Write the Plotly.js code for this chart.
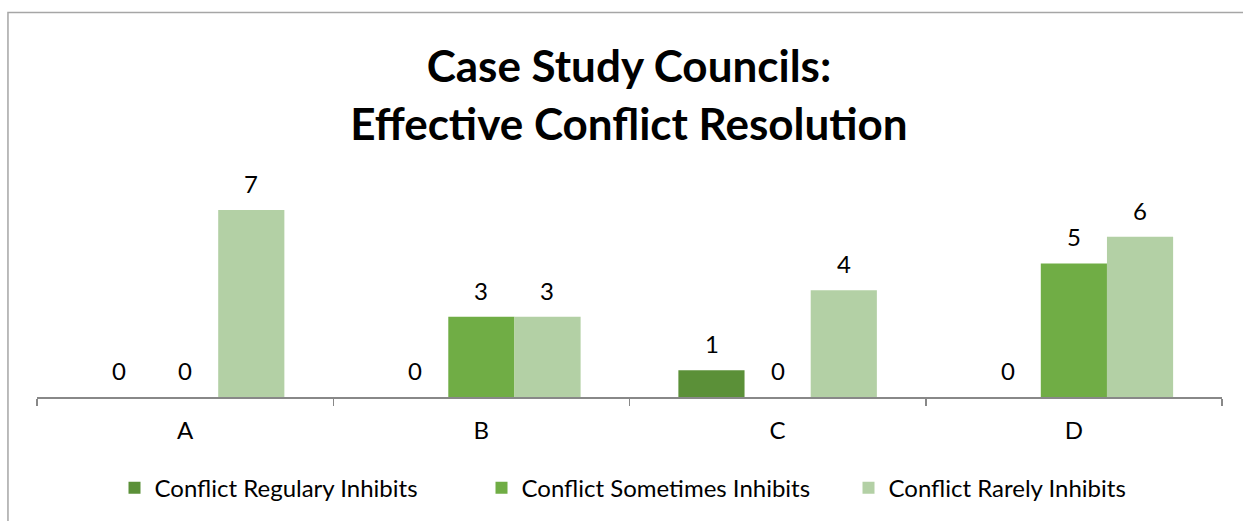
<!DOCTYPE html>
<html>
<head>
<meta charset="utf-8">
<script src="https://cdn.plot.ly/plotly-3.0.1.min.js"></script>
<style>html,body{margin:0;padding:0;background:#fff;}#chart{width:1243px;height:521px;}</style>
</head>
<body>
<div id="chart"></div>
<script>
const categories = ["A", "B", "C", "D"];
const seriesNames = ["Conflict Regulary Inhibits", "Conflict Sometimes Inhibits", "Conflict Rarely Inhibits"];
const regularly = [0, 0, 1, 0];
const sometimes = [0, 3, 0, 5];
const rarely = [7, 3, 4, 6];
const seriesValues = [regularly, sometimes, rarely];
const colors = ["#5b9038", "#70ad45", "#b3d0a5"];

const FONT = "Lato, 'Open Sans', sans-serif";
const traces = seriesValues.map((vals, i) => ({
  type: "bar",
  name: seriesNames[i],
  x: categories,
  y: vals,
  marker: {color: colors[i]},
  hoverinfo: "x+y+name"
}));

const barPx = 66;
const annotations = [];
seriesValues.forEach((vals, i) => {
  vals.forEach((v, j) => {
    annotations.push({
      x: categories[j], y: v, xref: "x", yref: "y",
      text: String(v), showarrow: false,
      xshift: (i - 1) * barPx, yanchor: "bottom", yshift: 10,
      font: {family: FONT, size: 24, color: "#000"}
    });
  });
});

const layout = {
  width: 1243, height: 521,
  margin: {l: 37, r: 21, t: 210, b: 124, autoexpand: false},
  paper_bgcolor: "#fff", plot_bgcolor: "#fff",
  font: {family: FONT, size: 24, color: "#000"},
  title: {
    text: "<b>Case Study Councils:<br>Effective Conflict Resolution</b>",
    font: {family: FONT, size: 44, color: "#000"},
    x: 0.506, xanchor: "center", y: 0.842, yanchor: "middle", yref: "container"
  },
  barmode: "group",
  bargap: 0.33, bargroupgap: 0,
  xaxis: {
    showline: true, linecolor: "#888888", linewidth: 1.5,
    ticks: "outside", tickson: "boundaries", ticklen: 7, tickcolor: "#888888", tickwidth: 1.5,
    ticklabelstandoff: 12,
    showgrid: false, zeroline: false,
    tickfont: {family: FONT, size: 24, color: "#000"}
  },
  yaxis: {range: [0, 7], visible: false, fixedrange: true},
  showlegend: true,
  legend: {
    orientation: "h", xref: "container", x: 0.535, xanchor: "center", y: -0.487, yanchor: "middle",
    entrywidth: 322, entrywidthmode: "pixels",
    font: {family: FONT, size: 24, color: "#000"}, traceorder: "normal"
  },
  annotations: annotations,
  shapes: [{
    type: "rect", xref: "paper", yref: "paper",
    x0: -0.0245, x1: 1.2, y0: -1.5, y1: 2.056,
    line: {color: "#a6a6a6", width: 1.5}, fillcolor: "rgba(0,0,0,0)", layer: "below"
  }]
};

Plotly.newPlot("chart", traces, layout, {displayModeBar: false, staticPlot: true});
</script>
</body>
</html>
